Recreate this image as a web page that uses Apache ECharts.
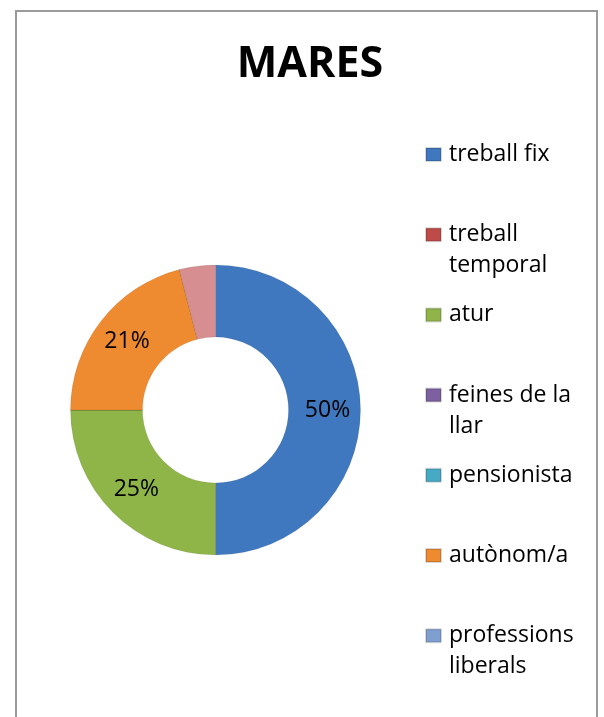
<!doctype html>
<html>
<head>
<meta charset="UTF-8">
<title>MARES</title>
<script src="https://cdn.jsdelivr.net/npm/echarts@6/dist/echarts.min.js"></script>
<style>
  html, body { margin: 0; padding: 0; background: #fff; }
  #main { width: 604px; height: 717px; }
</style>
</head>
<body>
<div id="main"></div>
<script>
// dades
var categories = ['treball fix', 'treball temporal', 'atur', 'feines de la llar',
                  'pensionista', 'autònom/a', 'professions liberals', 'altres'];
var values = [50, 0, 25, 0, 0, 21, 0, 4];
var colors = ['#3f78be', '#be4b48', '#8fb548', '#7d60a0', '#46aac5', '#ee8a2f', '#7f9fd0', '#d68e91'];
// noms amb salt de línia tal com surten a la llegenda
var legendText = {
    'treball temporal': ['treball', 'temporal'],
    'feines de la llar': ['feines de la', 'llar'],
    'professions liberals': ['professions', 'liberals']
};
var legendNames = categories.slice(0, 7);

var myChart = echarts.init(document.getElementById('main'));

var pieData = [];
for (var i = 0; i < categories.length; i++) {
    pieData.push({ name: categories[i], value: values[i], itemStyle: { color: colors[i] } });
}

// totes les entrades amb la mateixa alçada perquè la icona quedi a la primera línia
var legendData = legendNames.map(function (n) {
    var twoLines = !!legendText[n];
    return {
        name: n,
        textStyle: { padding: twoLines ? [31, 0, 0, 3] : [31, 0, 31, 3] }
    };
});

var option = {
    animation: false,
    title: {
        text: 'MARES',
        left: 310,
        top: 43,
        padding: 0,
        textAlign: 'center',
        textStyle: { fontFamily: 'Open Sans', fontWeight: 'bold', fontSize: 43, color: '#000' }
    },
    legend: {
        orient: 'vertical',
        left: 425,
        top: 108,
        padding: 0,
        itemWidth: 15,
        itemHeight: 13,
        itemGap: -12.8,
        icon: 'rect',
        selectedMode: false,
        data: legendData,
        formatter: function (name) {
            var lines = legendText[name] || [name];
            return lines.map(function (s) { return '{t|' + s + '}'; }).join('\n');
        },
        textStyle: {
            fontFamily: 'Open Sans', fontSize: 23, lineHeight: 31, color: '#000',
            rich: { t: { fontFamily: 'Open Sans', fontSize: 23, lineHeight: 31, color: '#000' } }
        }
    },
    graphic: [{
        type: 'rect',
        shape: { x: 16, y: 11, width: 581, height: 730 },
        style: { fill: 'none', stroke: '#9a9a9a', lineWidth: 2 },
        silent: true
    }],
    series: [{
        type: 'pie',
        center: [215.5, 410],
        radius: [73, 145],
        startAngle: 90,
        clockwise: true,
        data: pieData,
        itemStyle: { borderColor: 'rgba(0,0,0,0.15)', borderWidth: 0.5 },
        label: {
            show: true,
            position: 'inside',
            fontFamily: 'Open Sans',
            fontSize: 23,
            color: '#000',
            formatter: function (p) {
                return p.percent >= 5 ? Math.round(p.percent) + '%' : '';
            }
        },
        labelLine: { show: false },
        emphasis: { disabled: true }
    }]
};

myChart.setOption(option);
</script>
</body>
</html>
